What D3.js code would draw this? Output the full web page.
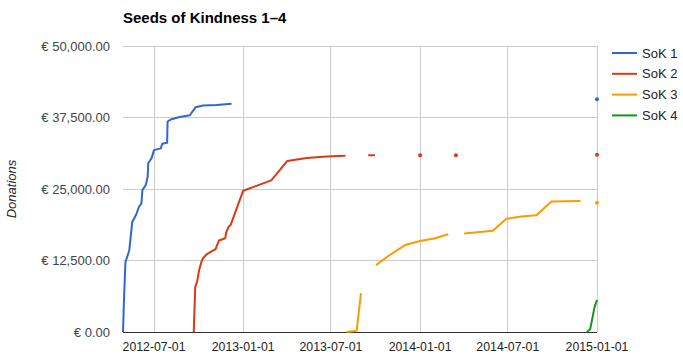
<!DOCTYPE html>
<html>
<head>
<meta charset="utf-8">
<script src="https://cdn.jsdelivr.net/npm/d3@7"></script>
<style>
body { margin: 0; background: #fff; }
text { font-family: Arial, "Liberation Sans", sans-serif; }
</style>
</head>
<body>
<div id="chart"></div>
<script>
// donations over time, one series per campaign (null = gap in the line)
const sok1Dates = ["2012-04-28","2012-04-30","2012-05-03","2012-05-11","2012-05-17","2012-05-25","2012-05-31","2012-06-05","2012-06-07","2012-06-14","2012-06-18","2012-06-19","2012-06-26","2012-07-01","2012-07-15","2012-07-18","2012-07-28","2012-07-29","2012-08-06","2012-08-23","2012-09-13","2012-09-18","2012-09-25","2012-10-10","2012-11-07","2012-12-08","2013-06-01","2015-01-01"];
const sok1Values = [0,5600,12200,14300,19200,20500,21900,22500,24800,25700,27200,29500,30400,31800,32100,32900,33100,36800,37200,37600,37900,38500,39300,39600,39700,39900,null,40700];

const sok2Dates = ["2012-09-21","2012-09-24","2012-09-28","2012-10-02","2012-10-07","2012-10-10","2012-10-18","2012-11-05","2012-11-12","2012-11-25","2012-11-27","2012-12-02","2012-12-06","2013-01-01","2013-02-28","2013-04-02","2013-05-12","2013-06-22","2013-07-31","2013-08-20","2013-09-16","2013-09-30","2013-11-01","2014-01-01","2014-02-01","2014-03-16","2014-06-01","2015-01-01"];
const sok2Values = [0,7900,8800,10800,12300,12900,13600,14500,16000,16400,17400,18400,18700,24700,26500,29900,30400,30700,30800,null,30900,30900,null,30900,null,30900,null,31000];

const sok3Dates = ["2013-08-02","2013-08-23","2013-09-01","2013-09-15","2013-10-02","2013-10-31","2013-12-01","2014-01-01","2014-02-01","2014-02-28","2014-03-15","2014-04-02","2014-05-31","2014-06-28","2014-07-29","2014-08-29","2014-09-29","2014-11-28","2014-12-15","2015-01-01"];
const sok3Values = [0,200,6800,null,11700,13500,15200,15900,16400,17100,null,17200,17700,19800,20200,20400,22800,22900,null,22600];

const sok4Dates = ["2014-12-11","2014-12-18","2014-12-27","2015-01-01"];
const sok4Values = [0,500,4400,5600];

const seriesNames = ["SoK 1", "SoK 2", "SoK 3", "SoK 4"];
const seriesColors = ["#3366cc", "#dc3912", "#ff9900", "#109618"];
const xTickLabels = ["2012-07-01","2013-01-01","2013-07-01","2014-01-01","2014-07-01","2015-01-01"];
const yTickValues = [0, 12500, 25000, 37500, 50000];

const width = 683, height = 364;
const plotLeft = 123, plotRight = 597, plotTop = 46, plotBottom = 332;

const parse = d3.timeParse("%Y-%m-%d");
const series = [
  [sok1Dates, sok1Values], [sok2Dates, sok2Values],
  [sok3Dates, sok3Values], [sok4Dates, sok4Values]
].map(function (s, i) {
  return {
    name: seriesNames[i],
    color: seriesColors[i],
    points: s[0].map((d, j) => ({ date: parse(d), value: s[1][j] }))
  };
});

const x = d3.scaleTime()
  .domain([parse("2012-04-28"), parse("2015-01-01")])
  .range([plotLeft, plotRight]);
const y = d3.scaleLinear()
  .domain([0, 50000])
  .range([plotBottom, plotTop]);

const svg = d3.select("#chart").append("svg")
  .attr("width", width)
  .attr("height", height);

// gridlines
svg.append("g")
  .selectAll("line")
  .data(yTickValues)
  .enter().append("line")
  .attr("x1", plotLeft).attr("x2", plotRight)
  .attr("y1", d => y(d)).attr("y2", d => y(d))
  .attr("stroke", "#cccccc").attr("stroke-width", 1)
  .attr("shape-rendering", "crispEdges");

svg.append("g")
  .selectAll("line")
  .data(xTickLabels)
  .enter().append("line")
  .attr("x1", d => x(parse(d))).attr("x2", d => x(parse(d)))
  .attr("y1", plotTop).attr("y2", plotBottom)
  .attr("stroke", "#cccccc").attr("stroke-width", 1)
  .attr("shape-rendering", "crispEdges");

// baseline
svg.append("line")
  .attr("x1", plotLeft).attr("x2", plotRight)
  .attr("y1", y(0)).attr("y2", y(0))
  .attr("stroke", "#333333").attr("stroke-width", 1)
  .attr("shape-rendering", "crispEdges");

// y labels
const fmt = d3.format(",.2f");
svg.append("g")
  .selectAll("text")
  .data(yTickValues)
  .enter().append("text")
  .attr("x", 110)
  .attr("y", d => y(d) + 4.5)
  .attr("text-anchor", "end")
  .attr("font-size", 13)
  .attr("fill", "#444444")
  .text(d => "€ " + fmt(d));

// x labels
svg.append("g")
  .selectAll("text")
  .data(xTickLabels)
  .enter().append("text")
  .attr("x", d => x(parse(d)))
  .attr("y", 351)
  .attr("text-anchor", "middle")
  .attr("font-size", 12.3)
  .attr("fill", "#222222")
  .text(d => d);

// axis title
svg.append("text")
  .attr("transform", "translate(16," + ((plotTop + plotBottom) / 2) + ") rotate(-90)")
  .attr("text-anchor", "middle")
  .attr("font-size", 13)
  .attr("font-style", "italic")
  .attr("fill", "#222222")
  .text("Donations");

// chart title
svg.append("text")
  .attr("x", plotLeft)
  .attr("y", 23)
  .attr("font-size", 15)
  .attr("font-weight", "bold")
  .attr("fill", "#000000")
  .text("Seeds of Kindness 1–4");

// lines
const line = d3.line()
  .defined(d => d.value != null)
  .x(d => x(d.date))
  .y(d => y(d.value));

series.forEach(function (s) {
  svg.append("path")
    .datum(s.points)
    .attr("d", line)
    .attr("fill", "none")
    .attr("stroke", s.color)
    .attr("stroke-width", 2)
    .attr("stroke-linejoin", "round");

  // isolated points show as dots
  const lone = s.points.filter(function (p, i, arr) {
    if (p.value == null) return false;
    const prev = arr[i - 1], next = arr[i + 1];
    return (!prev || prev.value == null) && (!next || next.value == null);
  });
  svg.append("g")
    .selectAll("circle")
    .data(lone)
    .enter().append("circle")
    .attr("cx", d => x(d.date))
    .attr("cy", d => y(d.value))
    .attr("r", 2)
    .attr("fill", s.color);
});

// legend
const legend = svg.append("g")
  .selectAll("g")
  .data(series)
  .enter().append("g")
  .attr("transform", (d, i) => "translate(612," + (53 + i * 20.8) + ")");

legend.append("line")
  .attr("x1", 0).attr("x2", 25)
  .attr("y1", 0).attr("y2", 0)
  .attr("stroke", d => d.color)
  .attr("stroke-width", 2);

legend.append("text")
  .attr("x", 30)
  .attr("y", 4.5)
  .attr("font-size", 13)
  .attr("fill", "#222222")
  .text(d => d.name);
</script>
</body>
</html>
